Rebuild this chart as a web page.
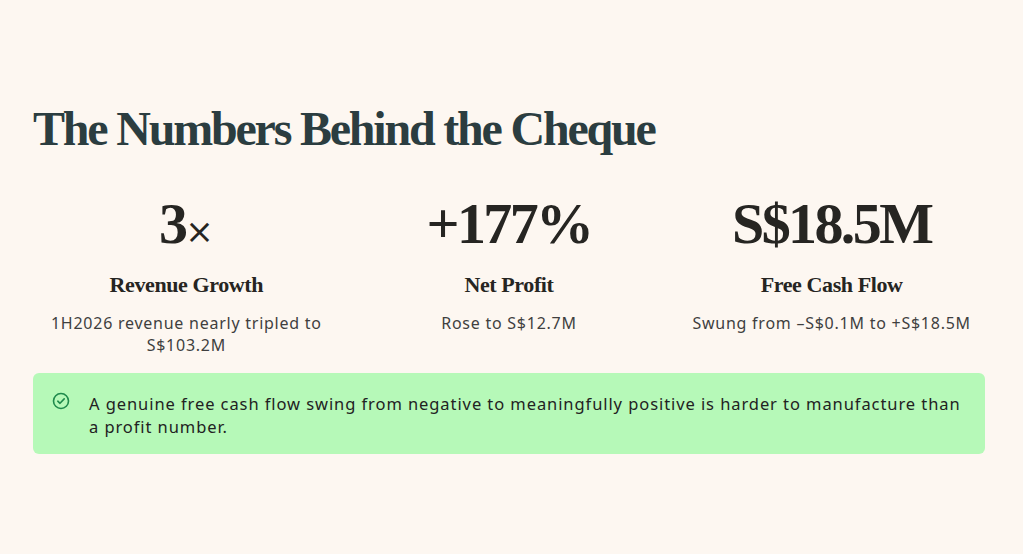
<!DOCTYPE html>
<html>
<head>
<meta charset="utf-8">
<script src="https://cdn.jsdelivr.net/npm/chart.js@4.4.0/dist/chart.umd.min.js"></script>
<style>
  html, body { margin: 0; padding: 0; background: #fdf7f1; }
  body { width: 1023px; height: 554px; overflow: hidden; position: relative; }
  .wrap { position: absolute; left: 33px; top: 0; width: 952px; }
  h1 { position: absolute; left: 0; top: 105px; margin: 0; font-family: "Liberation Serif", "DejaVu Serif", serif; font-weight: 700; font-size: 48px; letter-spacing: -2.2px; color: #2b3d40; white-space: nowrap; line-height: 1; }
  .stats { position: absolute; left: 0; top: 189px; width: 952px; display: grid; grid-template-columns: repeat(3, 1fr); column-gap: 16px; }
  .stat { text-align: center; }
  .big { font-family: "Liberation Serif", "DejaVu Serif", serif; font-weight: 700; font-size: 58px; letter-spacing: -2.6px; color: #262522; line-height: 70px; height: 70px; }
  .big .x { font-weight: 400; font-family: "DejaVu Sans", sans-serif; font-size: 34px; letter-spacing: 0; }
  .lab { margin-top: 13px; font-family: "Liberation Serif", "DejaVu Serif", serif; font-weight: 700; font-size: 22px; letter-spacing: -0.4px; color: #262522; line-height: 26px; }
  .desc { margin-top: 14px; font-family: "Noto Sans", "Open Sans", sans-serif; font-size: 16px; color: #3f3f3f; line-height: 22px; letter-spacing: 0.75px; }
  .note { position: absolute; left: 0; top: 373px; width: 952px; height: 81px; background: #b6f9b8; border-radius: 6px; box-sizing: border-box; padding: 19px 22px 0 56px; font-family: "Noto Sans", "Open Sans", sans-serif; font-size: 16.5px; line-height: 23px; color: #222; letter-spacing: 0.92px; }
  .note svg { position: absolute; left: 19px; top: 19px; }
</style>
</head>
<body>
<script>
  const title = "The Numbers Behind the Cheque";
  const statValues = ["3", "+177%", "S$18.5M"];
  const statSuffixes = ["×", "", ""];
  const statLabels = ["Revenue Growth", "Net Profit", "Free Cash Flow"];
  const statDescriptions = ["1H2026 revenue nearly tripled to S$103.2M", "Rose to S$12.7M", "Swung from –S$0.1M to +S$18.5M"];
  const noteText = "A genuine free cash flow swing from negative to meaningfully positive is harder to manufacture than a profit number.";
</script>
<div class="wrap">
  <h1 id="title"></h1>
  <div class="stats" id="stats"></div>
  <div class="note" id="note">
    <svg width="18" height="18" viewBox="0 0 18 18"><circle cx="9" cy="9" r="7.5" fill="none" stroke="#1f8a4c" stroke-width="1.6"/><path d="M5.8 9.2 L8 11.3 L12.2 6.9" fill="none" stroke="#1f8a4c" stroke-width="1.6" stroke-linecap="round" stroke-linejoin="round"/></svg>
    <span id="noteText"></span>
  </div>
</div>
<script>
  document.getElementById('title').textContent = title;
  document.getElementById('noteText').textContent = noteText;
  const statsEl = document.getElementById('stats');
  statValues.forEach((v, i) => {
    const d = document.createElement('div');
    d.className = 'stat';
    const big = document.createElement('div');
    big.className = 'big';
    big.appendChild(document.createTextNode(v));
    if (statSuffixes[i]) {
      const s = document.createElement('span');
      s.className = 'x';
      s.textContent = statSuffixes[i];
      big.appendChild(s);
    }
    const lab = document.createElement('div');
    lab.className = 'lab';
    lab.textContent = statLabels[i];
    const desc = document.createElement('div');
    desc.className = 'desc';
    desc.textContent = statDescriptions[i];
    d.appendChild(big); d.appendChild(lab); d.appendChild(desc);
    statsEl.appendChild(d);
  });
</script>
</body>
</html>
